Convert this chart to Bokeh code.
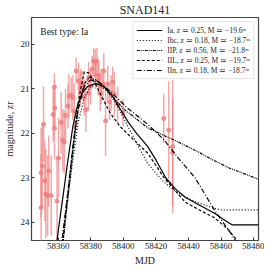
from bokeh.plotting import figure
from bokeh.models import Range1d, FixedTicker, Legend, LegendItem, Label, ColumnDataSource
from bokeh.embed import file_html
from bokeh.resources import INLINE

# observations
obs_mjd = [58349.5, 58349.5, 58350.2, 58351.0, 58351.8, 58352.4, 58353.5, 58354.2, 58355.7,
           58356.9, 58357.7, 58357.9, 58357.7, 58359.3, 58360.2, 58361.8, 58363.7, 58366.0,
           58366.6, 58368.0, 58369.0, 58370.0, 58371.0, 58372.5, 58373.5, 58375.0, 58377.0,
           58378.5, 58380.9, 58381.8, 58383.8, 58385.0, 58386.5, 58388.0, 58389.1, 58390.4,
           58392.5, 58394.5, 58399.8, 58424.8, 58427.9, 58430.3, 58430.3,
           58374.0, 58376.0, 58378.7, 58379.9, 58382.7, 58383.0, 58384.6, 58385.8, 58387.5,
           58391.5, 58393.5, 58396.5, 58362.8, 58364.5]
obs_mag = [23.67, 22.89, 22.74, 21.80, 23.07, 23.36, 23.40, 22.85, 23.40,
           21.58, 20.96, 21.43, 21.89, 23.52, 22.56, 21.76, 22.20, 21.39,
           21.17, 21.14, 21.20, 21.50, 20.60, 20.82, 21.00, 20.90, 21.47,
           21.10, 20.56, 20.38, 20.38, 20.70, 20.95, 20.60, 21.72, 20.89,
           21.10, 21.12, 21.54, 21.67, 21.93, 22.30, 22.44,
           20.90, 21.20, 20.75, 20.95, 20.41, 20.70, 20.80, 21.10, 20.90,
           21.30, 20.85, 21.35, 22.15, 21.60]
obs_err = [1.2, 1.0, 0.9, 0.85, 0.9, 1.0, 0.9, 0.8, 0.9,
           0.6, 0.3, 0.5, 0.7, 1.0, 0.9, 0.7, 0.7, 0.5,
           0.5, 0.4, 0.5, 0.6, 0.3, 0.4, 0.4, 0.3, 0.5,
           0.4, 0.3, 0.3, 0.3, 0.3, 0.4, 0.4, 0.8, 0.4,
           0.4, 0.5, 0.3, 0.55, 1.1, 1.5, 1.2,
           0.35, 0.4, 0.35, 0.4, 0.3, 0.3, 0.35, 0.4, 0.35,
           0.4, 0.35, 0.4, 0.7, 0.6]

# model curves
ia_mjd = [58358, 58360, 58363, 58366, 58369, 58372, 58375, 58378, 58383, 58388, 58393, 58398,
          58403, 58408, 58415, 58420, 58426, 58432, 58438, 58446, 58456, 58462, 58467, 58484]
ia_mag = [24.8, 24.2, 23.4, 22.6, 21.85, 21.35, 21.08, 20.95, 20.88, 20.95, 21.15, 21.45,
          21.75, 22.0, 22.3, 22.6, 23.0, 23.25, 23.44, 23.6, 23.8, 23.95, 24.06, 24.06]
ibc_mjd = [58361, 58363, 58366, 58369, 58372, 58376, 58380, 58385, 58390, 58395, 58400,
           58405, 58410, 58415, 58420, 58425, 58434, 58445, 58455, 58460, 58484]
ibc_mag = [24.8, 24.3, 23.45, 22.6, 21.8, 21.2, 20.95, 20.9, 21.05, 21.3, 21.65,
           22.0, 22.35, 22.68, 22.9, 23.1, 23.36, 23.55, 23.68, 23.72, 23.72]
iip_mjd = [58362, 58364, 58367, 58370, 58373, 58376, 58379, 58383, 58388, 58394, 58400,
           58407, 58415, 58425, 58435, 58445, 58455, 58465, 58475, 58484]
iip_mag = [24.8, 24.1, 23.1, 22.1, 21.3, 20.9, 20.74, 20.8, 20.95, 21.2, 21.45,
           21.65, 21.88, 22.05, 22.22, 22.4, 22.6, 22.78, 22.92, 23.05]
iil_mjd = [58362, 58364, 58367, 58370, 58373, 58376, 58379, 58383, 58387, 58392, 58398,
           58405, 58415, 58425, 58438, 58448, 58456, 58464, 58472]
iil_mag = [24.8, 24.0, 23.0, 22.0, 21.15, 20.62, 20.65, 20.9, 21.2, 21.55, 21.85,
           22.1, 22.45, 23.0, 23.55, 23.75, 23.9, 24.15, 24.5]
iin_mjd = [58361, 58363, 58366, 58369, 58372, 58376, 58380, 58385, 58390, 58396, 58403,
           58410, 58415, 58425, 58434, 58444, 58456, 58467, 58472]
iin_mag = [24.8, 24.2, 23.3, 22.3, 21.5, 20.95, 20.8, 20.85, 21.0, 21.2, 21.45,
           21.65, 21.8, 22.15, 22.57, 23.0, 23.73, 24.3, 24.6]

labels = ["Ia, z \u2243 0.25, M \u2243 \u221219.6\u1d50",
          "Ibc, z \u2243 0.18, M \u2243 \u221218.7\u1d50",
          "IIP, z \u2243 0.56, M \u2243 \u221221.8\u1d50",
          "IIL, z \u2243 0.25, M \u2243 \u221219.7\u1d50",
          "IIn, z \u2243 0.18, M \u2243 \u221218.7\u1d50"]
x_ticks = [58360, 58380, 58400, 58420, 58440, 58460, 58480]
y_ticks = [20, 21, 22, 23, 24]

FONT = "Liberation Serif"
TXT = "#222222"

p = figure(width=264, height=268, output_backend="svg", toolbar_location=None,
           x_range=Range1d(58343.6, 58483.0), y_range=Range1d(24.41, 19.40),
           title="SNAD141", min_border_left=4, min_border_right=6,
           min_border_top=0, min_border_bottom=2)
p.title.align = "center"
p.title.text_font = FONT
p.title.text_font_size = "12px"
p.title.text_font_style = "normal"
p.title.text_color = TXT
p.title.standoff = 1

p.grid.visible = False
p.outline_line_color = "#444444"
p.outline_line_width = 1.2

for ax in (p.xaxis[0], p.yaxis[0]):
    ax.major_tick_in = 3
    ax.major_tick_out = 0
    ax.minor_tick_in = 0
    ax.minor_tick_out = 0
    ax.axis_line_color = None
    ax.major_tick_line_color = "#333333"
    ax.major_label_text_font = FONT
    ax.major_label_text_font_size = "9px"
    ax.major_label_text_color = TXT
    ax.axis_label_text_font = FONT
    ax.axis_label_text_font_size = "10px"
    ax.axis_label_text_font_style = "normal"
    ax.axis_label_text_color = TXT
    ax.major_label_standoff = 2
    ax.axis_label_standoff = 3

p.xaxis.ticker = FixedTicker(ticks=x_ticks)
p.yaxis.ticker = FixedTicker(ticks=y_ticks)
p.xaxis.axis_label = "MJD"
p.yaxis.axis_label = "magnitude, zr"

# observations
y0 = [m - e for m, e in zip(obs_mag, obs_err)]
y1 = [m + e for m, e in zip(obs_mag, obs_err)]
src = ColumnDataSource(dict(x=obs_mjd, y=obs_mag, y0=y0, y1=y1))
p.segment(x0="x", y0="y0", x1="x", y1="y1", source=src, line_color="#f08080",
          line_alpha=0.7, line_width=1.5)
p.scatter(x="x", y="y", source=src, size=4, fill_color="#f08080", line_color="#f08080",
          alpha=0.85)

# models
r_ia = p.line(ia_mjd, ia_mag, line_color="black", line_width=1.2)
r_ibc = p.line(ibc_mjd, ibc_mag, line_color="black", line_width=1.2, line_dash="1 2")
r_iip = p.line(iip_mjd, iip_mag, line_color="black", line_width=1.2, line_dash="3 1 1 1 1 1")
r_iil = p.line(iil_mjd, iil_mag, line_color="black", line_width=1.2, line_dash="3 2")
r_iin = p.line(iin_mjd, iin_mag, line_color="black", line_width=1.2, line_dash="5 2 1 2")

legend = Legend(items=[LegendItem(label=l, renderers=[r]) for l, r in
                       zip(labels, [r_ia, r_ibc, r_iip, r_iil, r_iin])],
                location="top_right")
legend.label_text_font = FONT
legend.label_text_font_size = "7.5px"
legend.label_text_color = TXT
legend.glyph_width = 26
legend.glyph_height = 10
legend.label_height = 10
legend.spacing = 0
legend.padding = 3
legend.margin = 4
legend.label_standoff = 5
legend.border_line_color = "#cccccc"
legend.border_line_width = 1
legend.background_fill_alpha = 1.0
p.add_layout(legend)

p.add_layout(Label(x=58349.0, y=19.72, text="Best type: Ia", text_font=FONT,
                   text_font_size="9.5px", text_color=TXT, text_baseline="middle"))

open("out.html", "w").write(file_html(p, INLINE))
